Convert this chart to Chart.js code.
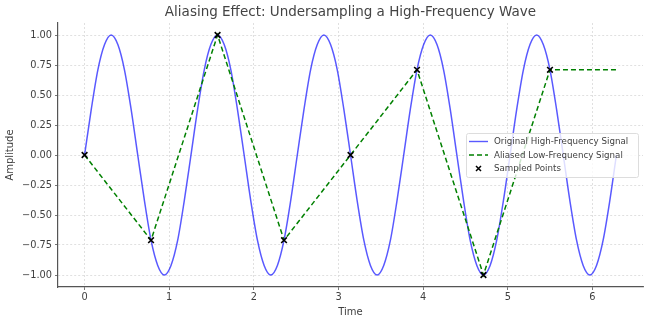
<!DOCTYPE html>
<html>
<head>
<meta charset="utf-8">
<script src="https://cdn.jsdelivr.net/npm/chart.js@4"></script>
<style>
  html, body { margin: 0; padding: 0; background: #fff; }
  #wrap { width: 650px; height: 322px; }
</style>
</head>
<body>
<div id="wrap"><canvas id="chart"></canvas></div>
<script>
// values
const hfTime = [
  0, 0.079, 0.157, 0.236, 0.314, 0.393, 0.471, 0.550, 0.628, 0.707,
  0.785, 0.864, 0.942, 1.021, 1.100, 1.178, 1.257, 1.335, 1.414, 1.492,
  1.571, 1.649, 1.728, 1.806, 1.885, 1.963, 2.042, 2.121, 2.199, 2.278,
  2.356, 2.435, 2.513, 2.592, 2.670, 2.749, 2.827, 2.906, 2.985, 3.063,
  3.142, 3.220, 3.299, 3.377, 3.456, 3.534, 3.613, 3.691, 3.770, 3.848,
  3.927, 4.006, 4.084, 4.163, 4.241, 4.320, 4.398, 4.477, 4.555, 4.634,
  4.712, 4.791, 4.869, 4.948, 5.027, 5.105, 5.184, 5.262, 5.341, 5.419,
  5.498, 5.576, 5.655, 5.733, 5.812, 5.890, 5.969, 6.048, 6.126, 6.205,
  6.283
];
const hfValue = [
  0, 0.38, 0.71, 0.92, 1, 0.92, 0.71, 0.38, 0, -0.38,
  -0.71, -0.92, -1, -0.92, -0.71, -0.38, 0, 0.38, 0.71, 0.92,
  1, 0.92, 0.71, 0.38, 0, -0.38, -0.71, -0.92, -1, -0.92,
  -0.71, -0.38, 0, 0.38, 0.71, 0.92, 1, 0.92, 0.71, 0.38,
  0, -0.38, -0.71, -0.92, -1, -0.92, -0.71, -0.38, 0, 0.38,
  0.71, 0.92, 1, 0.92, 0.71, 0.38, 0, -0.38, -0.71, -0.92,
  -1, -0.92, -0.71, -0.38, 0, 0.38, 0.71, 0.92, 1, 0.92,
  0.71, 0.38, 0, -0.38, -0.71, -0.92, -1, -0.92, -0.71, -0.38,
  0
];
const sampleTime = [0, 0.785, 1.571, 2.356, 3.142, 3.927, 4.712, 5.498];
const sampleValue = [0, -0.71, 1, -0.71, 0, 0.71, -1, 0.71];
const aliasTime = [0, 0.785, 1.571, 2.356, 3.142, 3.927, 4.712, 5.498, 6.283];
const aliasValue = [0, -0.71, 1, -0.71, 0, 0.71, -1, 0.71, 0.71];
const xTicks = [0, 1, 2, 3, 4, 5, 6];
const yTicks = [-1, -0.75, -0.5, -0.25, 0, 0.25, 0.5, 0.75, 1];

const pts = (xs, ys) => xs.map((x, i) => ({ x: x, y: ys[i] }));
const FONT = "'DejaVu Sans', sans-serif";
const TXT = '#3f3f3f';

// title + legend drawn by hand so they sit where matplotlib put them
const decor = {
  id: 'decor',
  afterDraw(chart) {
    const ctx = chart.ctx;
    const a = chart.chartArea;
    ctx.save();
    ctx.fillStyle = '#444';
    ctx.font = '13.5px ' + FONT;
    ctx.textAlign = 'center';
    ctx.textBaseline = 'middle';
    ctx.fillText('Aliasing Effect: Undersampling a High-Frequency Wave', (a.left + a.right) / 2, 12);

    // legend box
    const bx = 466, by = 133, bw = 172, bh = 44;
    ctx.fillStyle = 'rgba(255,255,255,0.8)';
    ctx.strokeStyle = '#ddd';
    ctx.lineWidth = 1;
    ctx.beginPath();
    ctx.roundRect(bx + 0.5, by + 0.5, bw, bh, 2);
    ctx.fill();
    ctx.stroke();

    ctx.font = '8.7px ' + FONT;
    ctx.textAlign = 'left';
    chart.data.datasets.forEach((ds, i) => {
      const y = by + 8.5 + i * 13.5;
      if (ds.showLine === false) {
        ctx.strokeStyle = '#000';
        ctx.lineWidth = 1.5;
        const cx = bx + 12.5, s = 2.5;
        ctx.beginPath();
        ctx.moveTo(cx - s, y - s); ctx.lineTo(cx + s, y + s);
        ctx.moveTo(cx - s, y + s); ctx.lineTo(cx + s, y - s);
        ctx.stroke();
      } else {
        ctx.strokeStyle = ds.borderColor;
        ctx.lineWidth = 1.4;
        ctx.setLineDash(ds.borderDash || []);
        ctx.beginPath();
        ctx.moveTo(bx + 3, y); ctx.lineTo(bx + 22, y);
        ctx.stroke();
        ctx.setLineDash([]);
      }
      ctx.fillStyle = TXT;
      ctx.fillText(ds.label, bx + 28, y + 0.5);
    });
    ctx.restore();
  }
};

new Chart(document.getElementById('chart'), {
  type: 'line',
  data: {
    datasets: [
      {
        label: 'Original High-Frequency Signal',
        data: pts(hfTime, hfValue),
        borderColor: 'rgba(0,0,255,0.65)',
        borderWidth: 1.5,
        pointRadius: 0,
        cubicInterpolationMode: 'monotone',
        order: 3
      },
      {
        label: 'Aliased Low-Frequency Signal',
        data: pts(aliasTime, aliasValue),
        borderColor: '#008000',
        borderWidth: 1.5,
        borderDash: [5, 3],
        pointRadius: 0,
        tension: 0,
        order: 2
      },
      {
        label: 'Sampled Points',
        data: pts(sampleTime, sampleValue),
        showLine: false,
        pointStyle: 'cross',
        rotation: 45,
        pointRadius: 4,
        pointBorderColor: '#000',
        pointBorderWidth: 1.6,
        order: 1
      }
    ]
  },
  options: {
    responsive: true,
    maintainAspectRatio: false,
    animation: false,
    devicePixelRatio: 1,
    layout: { padding: { left: 4, right: 7, top: 23, bottom: 4 } },
    plugins: {
      legend: { display: false },
      title: { display: false },
      tooltip: { enabled: false }
    },
    scales: {
      x: {
        type: 'linear',
        min: -0.314,
        max: 6.597,
        afterBuildTicks: (s) => { s.ticks = xTicks.map(v => ({ value: v })); },
        afterFit: (s) => { s.height = 31; },
        ticks: {
          color: TXT,
          font: { family: FONT, size: 9.8 },
          padding: 2,
          maxRotation: 0,
          callback: (v) => String(v)
        },
        grid: {
          color: '#d8d8d8',
          lineWidth: 0.8,
          tickColor: '#555',
          tickLength: 3,
          tickBorderDash: []
        },
        border: { display: true, color: '#555', width: 1.2, dash: [2, 2] },
        title: {
          display: true,
          text: 'Time',
          color: TXT,
          font: { family: FONT, size: 10 },
          padding: { top: 0, bottom: 0 }
        }
      },
      y: {
        min: -1.1,
        max: 1.1,
        afterBuildTicks: (s) => { s.ticks = yTicks.map(v => ({ value: v })); },
        afterFit: (s) => { s.width = 54; },
        ticks: {
          color: TXT,
          font: { family: FONT, size: 9.8 },
          padding: 3,
          callback: (v) => (v < 0 ? '\u2212' + Math.abs(v).toFixed(2) : v.toFixed(2))
        },
        grid: {
          color: '#d8d8d8',
          lineWidth: 0.8,
          tickColor: '#555',
          tickLength: 3,
          tickBorderDash: []
        },
        border: { display: true, color: '#555', width: 1.2, dash: [2, 2] },
        title: {
          display: true,
          text: 'Amplitude',
          color: TXT,
          font: { family: FONT, size: 10 },
          padding: { top: 0, bottom: 0 }
        }
      }
    }
  },
  plugins: [decor]
});
</script>
</body>
</html>
